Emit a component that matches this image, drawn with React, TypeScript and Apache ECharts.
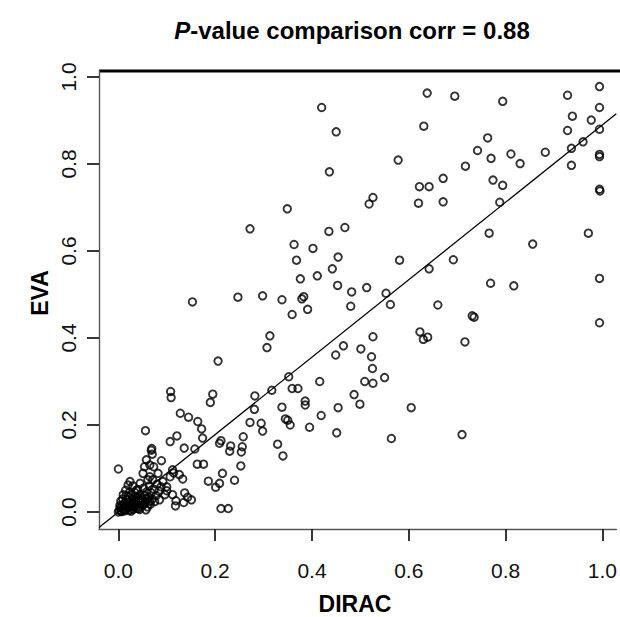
import React, { useEffect, useRef } from "react";
import * as echarts from "echarts";

const titleText = "-value comparison corr = 0.88";
const titleItalic = "P";
const xName = "DIRAC";
const yName = "EVA";
const tickValues = [0, 0.2, 0.4, 0.6, 0.8, 1.0];
const fitSlope = 0.89;
const fitIntercept = 0;

const dirac: number[] = [
  0.420, 0.450, 0.436, 0.349, 0.272, 0.435, 0.468, 0.363, 0.402, 0.368, 0.454, 0.442, 0.376, 0.411, 0.453,
  0.153, 0.247, 0.298, 0.338, 0.383, 0.379, 0.359, 0.391, 0.482, 0.480,
  0.638, 0.695, 0.794, 0.928, 0.994, 0.994, 0.938, 0.977, 0.928, 0.994, 0.631, 0.763, 0.742, 0.770, 0.811,
  0.830, 0.882, 0.936, 0.960, 0.936, 0.994, 0.994, 0.578, 0.717, 0.774, 0.794, 0.788, 0.671, 0.622, 0.642,
  0.620, 0.671, 0.526, 0.518, 0.994, 0.995, 0.513, 0.553, 0.562, 0.581, 0.642, 0.692, 0.660, 0.766, 0.856,
  0.971, 0.769, 0.817, 0.994, 0.731, 0.735,
  0.994, 0.526, 0.623, 0.639, 0.630, 0.716, 0.465, 0.501, 0.523, 0.525, 0.550, 0.509, 0.526, 0.487, 0.499,
  0.605, 0.454, 0.564, 0.710, 0.451,
  0.313, 0.307, 0.206, 0.449, 0.352, 0.416, 0.359, 0.371, 0.317, 0.282, 0.386, 0.386, 0.338, 0.281, 0.419,
  0.345, 0.350, 0.355, 0.395, 0.329, 0.340, 0.108, 0.109, 0.195, 0.190, 0.128, 0.145, 0.164, 0.172, 0.056,
  0.121, 0.107, 0.174, 0.158, 0.136, 0.069, 0.212, 0.209, 0.232, 0.230, 0.258, 0.256, 0.254, 0.253, 0.240,
  0.215, 0.186, 0.201, 0.209, 0.212, 0.227, 0.163, 0.176, 0.089, 0.000, 0.068, 0.070, 0.058, 0.054, 0.073,
  0.082, 0.024, 0.020, 0.051, 0.061, 0.065, 0.071, 0.107, 0.114, 0.126, 0.133, 0.100, 0.112, 0.119, 0.118,
  0.137, 0.143, 0.151, 0.135, 0.085, 0.065, 0.100, 0.272, 0.295, 0.298, 0.065, 0.112, 0.075, 0.058,
  0.000, 0.002, 0.004, 0.006, 0.008, 0.010, 0.012, 0.014, 0.015, 0.017, 0.018, 0.020, 0.021, 0.022, 0.024,
  0.025, 0.027, 0.028, 0.030, 0.031, 0.032, 0.034, 0.035, 0.036, 0.038, 0.039, 0.040, 0.042, 0.043, 0.045,
  0.046, 0.048, 0.050, 0.052, 0.054, 0.056, 0.058, 0.060, 0.062, 0.064, 0.066, 0.068, 0.070, 0.074, 0.078,
  0.080, 0.084, 0.088, 0.005, 0.010, 0.015, 0.030, 0.045, 0.003, 0.092, 0.096,
  0.007, 0.013, 0.019, 0.026, 0.033, 0.041, 0.049, 0.057, 0.009, 0.016, 0.023, 0.037, 0.044, 0.053,
];

const eva: number[] = [
  0.930, 0.874, 0.782, 0.697, 0.651, 0.645, 0.654, 0.615, 0.606, 0.579, 0.586, 0.559, 0.536, 0.543, 0.521,
  0.483, 0.494, 0.497, 0.488, 0.495, 0.490, 0.454, 0.466, 0.506, 0.473,
  0.963, 0.956, 0.944, 0.958, 0.978, 0.930, 0.910, 0.901, 0.877, 0.880, 0.887, 0.860, 0.831, 0.813, 0.823,
  0.801, 0.827, 0.836, 0.851, 0.797, 0.822, 0.817, 0.809, 0.795, 0.763, 0.751, 0.712, 0.767, 0.748, 0.748,
  0.710, 0.713, 0.723, 0.708, 0.742, 0.738, 0.516, 0.503, 0.477, 0.579, 0.559, 0.580, 0.476, 0.641, 0.616,
  0.641, 0.526, 0.520, 0.537, 0.451, 0.448,
  0.435, 0.403, 0.414, 0.402, 0.397, 0.391, 0.382, 0.375, 0.357, 0.330, 0.309, 0.300, 0.296, 0.270, 0.248,
  0.240, 0.240, 0.169, 0.178, 0.182,
  0.405, 0.378, 0.347, 0.361, 0.311, 0.300, 0.284, 0.284, 0.280, 0.267, 0.255, 0.246, 0.241, 0.236, 0.222,
  0.214, 0.211, 0.200, 0.195, 0.156, 0.129, 0.277, 0.263, 0.271, 0.252, 0.227, 0.218, 0.208, 0.191, 0.187,
  0.175, 0.162, 0.170, 0.145, 0.147, 0.146, 0.164, 0.158, 0.152, 0.140, 0.173, 0.150, 0.138, 0.106, 0.073,
  0.089, 0.071, 0.057, 0.066, 0.008, 0.008, 0.110, 0.110, 0.118, 0.099, 0.142, 0.133, 0.120, 0.104, 0.104,
  0.089, 0.070, 0.062, 0.089, 0.074, 0.081, 0.074, 0.081, 0.090, 0.086, 0.076, 0.049, 0.040, 0.026, 0.014,
  0.044, 0.034, 0.028, 0.022, 0.028, 0.024, 0.058, 0.206, 0.204, 0.186, 0.108, 0.097, 0.024, 0.030,
  0.000, 0.004, 0.010, 0.002, 0.015, 0.006, 0.020, 0.003, 0.012, 0.028, 0.008, 0.016, 0.035, 0.004, 0.022,
  0.011, 0.040, 0.018, 0.006, 0.030, 0.013, 0.045, 0.024, 0.009, 0.034, 0.017, 0.052, 0.026, 0.012, 0.040,
  0.020, 0.031, 0.015, 0.055, 0.038, 0.024, 0.046, 0.012, 0.035, 0.060, 0.018, 0.044, 0.030, 0.052, 0.038,
  0.064, 0.048, 0.058, 0.025, 0.040, 0.050, 0.060, 0.066, 0.015, 0.070, 0.040,
  0.001, 0.007, 0.013, 0.002, 0.020, 0.008, 0.028, 0.005, 0.030, 0.038, 0.045, 0.050, 0.006, 0.018,
];

const X_MIN = -0.04;
const X_MAX = 1.0287;
const Y_MIN = -0.039;
const Y_MAX = 1.0138;

export default function App() {
  const ref = useRef<HTMLDivElement>(null);
  useEffect(() => {
    if (!ref.current) return;
    const chart = echarts.init(ref.current, undefined, { renderer: "svg" });
    const points = dirac.map((x, i) => [x, eva[i]]);
    const font = "'Liberation Sans', Arial, sans-serif";
    const axisCommon = {
      type: "value",
      splitLine: { show: false },
      axisLine: { show: true, onZero: false, lineStyle: { color: "#555", width: 1.4 } },
      axisTick: {
        show: true,
        inside: false,
        length: 12,
        customValues: tickValues,
        lineStyle: { color: "#222", width: 1.8 },
      },
    };
    chart.setOption({
      animation: false,
      backgroundColor: "#fff",
      grid: { left: 99, right: 0, top: 71, bottom: 88, containLabel: false },
      xAxis: {
        ...axisCommon,
        min: X_MIN,
        max: X_MAX,
        axisLabel: {
          customValues: tickValues,
          formatter: (v: number) => v.toFixed(1),
          fontSize: 21,
          color: "#111",
          fontFamily: font,
          margin: 31,
        },
      },
      yAxis: {
        ...axisCommon,
        min: Y_MIN,
        max: Y_MAX,
        axisLabel: {
          customValues: tickValues,
          formatter: (v: number) => v.toFixed(1),
          fontSize: 21,
          color: "#111",
          fontFamily: font,
          rotate: 90,
          margin: 20,
        },
      },
      series: [
        {
          type: "scatter",
          data: points,
          symbol: "circle",
          symbolSize: 7.5,
          itemStyle: { color: "transparent", borderColor: "#000", borderWidth: 1.9 },
          silent: true,
        },
        {
          type: "line",
          data: [
            [X_MIN, fitIntercept + fitSlope * X_MIN],
            [X_MAX, fitIntercept + fitSlope * X_MAX],
          ],
          symbol: "none",
          lineStyle: { color: "#000", width: 1.3 },
          silent: true,
        },
      ],
      graphic: [
        {
          type: "line",
          shape: { x1: 99, y1: 71, x2: 620, y2: 71 },
          style: { stroke: "#000", lineWidth: 3 },
          silent: true,
        },
        {
          type: "text",
          x: 352,
          y: 30,
          style: {
            text: "{i|" + titleItalic + "}{b|" + titleText + "}",
            align: "center",
            verticalAlign: "middle",
            rich: {
              i: { fontStyle: "italic", fontWeight: "bold", fontSize: 24, fontFamily: font, fill: "#000" },
              b: { fontWeight: "bold", fontSize: 24, fontFamily: font, fill: "#000" },
            },
          },
        },
        {
          type: "text",
          x: 355,
          y: 604,
          style: {
            text: xName,
            align: "center",
            verticalAlign: "middle",
            font: "bold 23px " + font,
            fill: "#000",
          },
        },
        {
          type: "text",
          x: 40,
          y: 293,
          rotation: Math.PI / 2,
          style: {
            text: yName,
            align: "center",
            verticalAlign: "middle",
            font: "bold 23px " + font,
            fill: "#000",
          },
        },
      ],
    });
    return () => chart.dispose();
  }, []);
  return (
    <div
      ref={ref}
      style={{ position: "fixed", left: 0, top: 0, width: 620, height: 617, background: "#fff" }}
    />
  );
}
